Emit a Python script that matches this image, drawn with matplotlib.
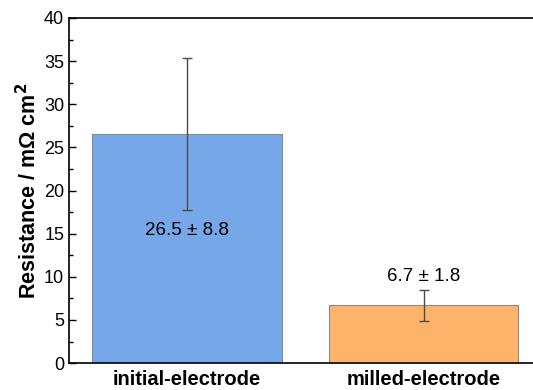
import numpy as np
import matplotlib.pyplot as plt
from matplotlib.ticker import MultipleLocator

labels = ['initial-electrode', 'milled-electrode']
resistance = [26.5, 6.7]
errors = [8.8, 1.8]
colors = ['#76A8E9', '#FDB46A']
text_y = [15.4, 10.0]

plt.rcParams['font.family'] = ['Liberation Sans', 'DejaVu Sans']

fig = plt.figure(figsize=(5.33, 3.90), dpi=100)
ax = fig.add_axes([0.1295, 0.069, 0.8705, 0.885])

x = np.arange(len(labels))
ax.bar(x, resistance, width=0.8, color=colors, edgecolor='#8a8a8a', linewidth=0.8)
ax.errorbar(x, resistance, yerr=errors, fmt='none', ecolor='#4a4a4a',
            elinewidth=1.0, capsize=3.5, capthick=1.0)

for xi, v, e, ty in zip(x, resistance, errors, text_y):
    ax.text(xi, ty, f'{v} ± {e}', ha='center', va='center', fontsize=13.5)

ax.set_xlim(-0.499, 1.463)
ax.set_ylim(0, 40)
ax.set_xticks(x)
ax.set_xticklabels(labels, fontsize=14.5, fontweight='bold')
ax.tick_params(axis='x', length=0, pad=5)
ax.yaxis.set_major_locator(MultipleLocator(5))
ax.yaxis.set_minor_locator(MultipleLocator(2.5))
ax.tick_params(axis='y', which='major', direction='in', length=5, labelsize=13, width=1)
ax.tick_params(axis='y', which='minor', direction='in', length=3, width=1)
ax.set_ylabel('Resistance / mΩ cm$^\\mathbf{2}$', fontsize=15.5, fontweight='bold', labelpad=2)

ax.spines['right'].set_visible(False)
for s in ['left', 'top', 'bottom']:
    ax.spines[s].set_linewidth(1.2)

fig.savefig('out.png', dpi=100)
